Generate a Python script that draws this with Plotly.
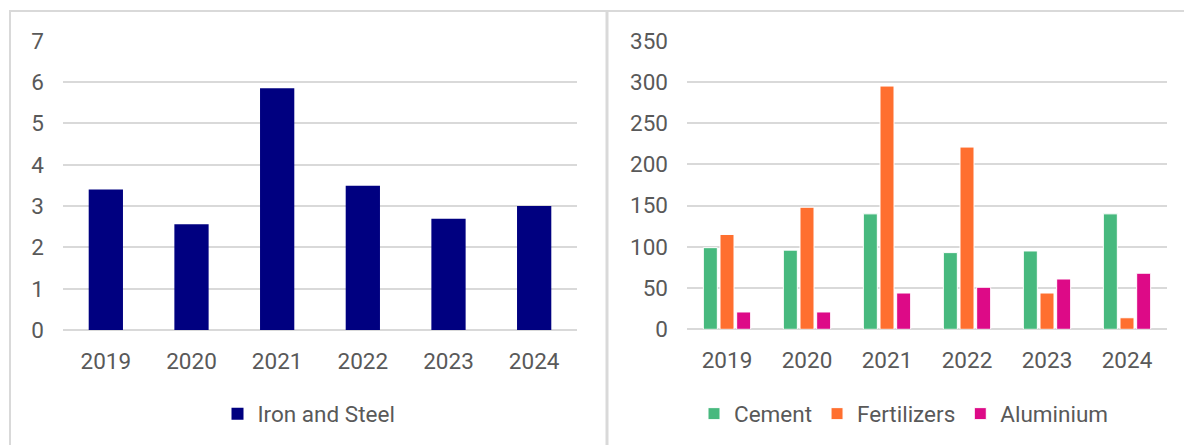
import plotly.graph_objects as go

years = ["2019", "2020", "2021", "2022", "2023", "2024"]
iron_steel = [3.40, 2.56, 5.85, 3.49, 2.69, 3.00]
cement = [99, 96, 140, 93, 95, 140]
fertilizers = [115, 148, 295, 221, 44, 14]
aluminium = [21, 21, 44, 51, 61, 68]

W, H = 1184, 445
FONT = "Roboto"
FS = 22.5
TXT = "#595959"
GRID = "#d9d9d9"

def px_x(v):
    return v / W

def px_y(v):
    return 1 - v / H

fig = go.Figure()

fig.add_trace(go.Bar(x=years, y=iron_steel, name="Iron and Steel",
                     marker=dict(color="#000080", line=dict(width=0)),
                     width=0.4, xaxis="x", yaxis="y", legend="legend"))

for name, vals, col in [("Cement", cement, "#47B97E"),
                        ("Fertilizers", fertilizers, "#FF6F2F"),
                        ("Aluminium", aluminium, "#DD0A87")]:
    fig.add_trace(go.Bar(x=years, y=vals, name=name,
                         marker=dict(color=col, line=dict(width=1, color="white")),
                         xaxis="x2", yaxis="y2", legend="legend2"))

axfont = dict(family=FONT, size=FS, color=TXT)
common_y = dict(showgrid=True, gridcolor=GRID, gridwidth=2, zeroline=True,
                zerolinecolor=GRID, zerolinewidth=2, showline=False, automargin=False,
                tickfont=axfont, ticks="", ticklabelstandoff=18)
common_x = dict(showgrid=False, zeroline=False, showline=False, tickfont=axfont, automargin=False,
                ticks="", ticklabelstandoff=15, type="category")

fig.update_layout(
    width=W, height=H,
    margin=dict(l=0, r=0, t=0, b=0, pad=0, autoexpand=False),
    paper_bgcolor="white", plot_bgcolor="white",
    barmode="group", bargap=0.375, bargroupgap=0.16,
    xaxis=dict(domain=[px_x(63), px_x(577)], anchor="y", **common_x),
    yaxis=dict(domain=[px_y(330), px_y(40.7)], anchor="x", range=[0, 7], dtick=1, **common_y),
    xaxis2=dict(domain=[px_x(687), px_x(1167)], anchor="y2", **common_x),
    yaxis2=dict(domain=[px_y(329.3), px_y(40.7)], anchor="x2", range=[0, 350], dtick=50, **common_y),
    legend=dict(orientation="h", x=px_x(309), xanchor="center", y=px_y(414), yanchor="middle",
                font=dict(family=FONT, size=FS, color=TXT), itemwidth=30, bgcolor="rgba(0,0,0,0)"),
    legend2=dict(orientation="h", x=px_x(904), xanchor="center", y=px_y(414), yanchor="middle",
                 font=dict(family=FONT, size=FS, color=TXT), itemwidth=30, bgcolor="rgba(0,0,0,0)"),
    showlegend=True,
    shapes=[
        dict(type="line", xref="paper", yref="paper", x0=px_x(9), x1=1, y0=px_y(11), y1=px_y(11),
             line=dict(color=GRID, width=2)),
        dict(type="line", xref="paper", yref="paper", x0=px_x(10), x1=px_x(10), y0=px_y(11), y1=0,
             line=dict(color=GRID, width=2)),
        dict(type="line", xref="paper", yref="paper", x0=px_x(607), x1=px_x(607), y0=px_y(11), y1=0,
             line=dict(color=GRID, width=3)),
    ],
)

fig.write_html("out.html", config={"displayModeBar": False},
               post_script="document.body.style.margin='0';document.body.style.overflow='hidden';")
